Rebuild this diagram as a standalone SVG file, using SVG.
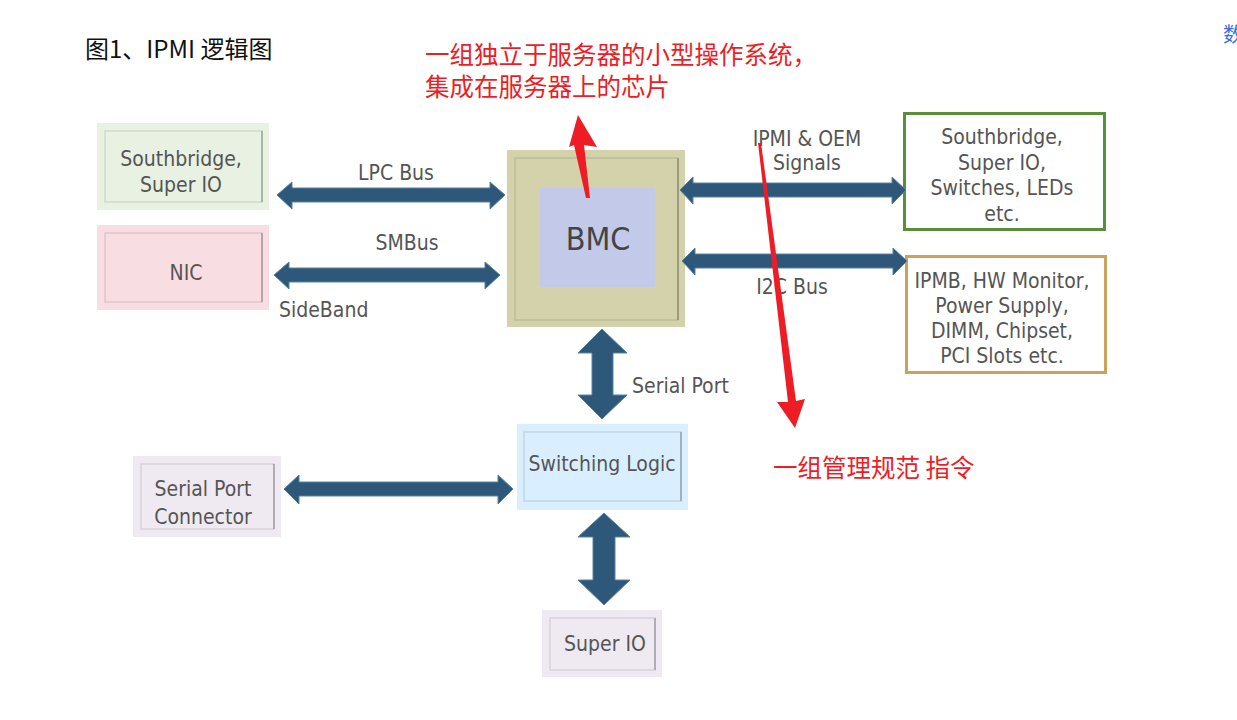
<svg xmlns="http://www.w3.org/2000/svg" width="1237" height="720" viewBox="0 0 1237 720">
<style>
.lbl{font-family:"DejaVu Sans Condensed","DejaVu Sans",sans-serif;font-size:21px;fill:#555;text-anchor:middle}
.cn{font-family:"Noto Sans CJK SC",sans-serif;font-size:24.5px;fill:#ee1c25}
.frame{fill:none;stroke:#000;stroke-opacity:0.1;stroke-width:1.5}
.edge{stroke:#000;stroke-opacity:0.2;stroke-width:2}
.arr{fill:#2d5879;stroke:#5a82a0;stroke-width:1}
.red{fill:#ee1c25}
</style>
<rect width="1237" height="720" fill="#fff"/>
<text x="85" y="58" font-family="Noto Sans CJK SC,sans-serif" font-size="24" fill="#111">图1、IPMI 逻辑图</text>
<text x="1223" y="42" font-family="Noto Sans CJK SC,sans-serif" font-size="20" fill="#3a6fe0">数</text>

<g id="sb-left">
<rect x="97" y="123" width="172" height="87" fill="#e8f1e2"/>
<rect x="105" y="131" width="157" height="71" class="frame"/>
<line x1="262" y1="131" x2="262" y2="202" class="edge"/>
<text x="181" y="166" class="lbl">Southbridge,</text>
<text x="181" y="192" class="lbl">Super IO</text>
</g>
<g id="nic">
<rect x="97" y="225" width="172" height="85" fill="#f8dde2"/>
<rect x="105" y="233" width="157" height="69" class="frame"/>
<line x1="262" y1="233" x2="262" y2="302" class="edge"/>
<text x="186" y="280" class="lbl">NIC</text>
</g>
<g id="bmc">
<rect x="507" y="150" width="178" height="177" fill="#d4d2aa"/>
<rect x="515" y="158" width="163" height="162" class="frame"/>
<line x1="678" y1="158" x2="678" y2="320" class="edge"/>
<rect x="540" y="188" width="115" height="99" fill="#c3c9e8"/>
<text x="598" y="250" class="lbl" style="font-size:32px;fill:#444">BMC</text>
</g>
<g id="sb-right">
<rect x="904.5" y="113.5" width="200" height="116" fill="#fff" stroke="#5a8f3a" stroke-width="3"/>
<text x="1002" y="144" class="lbl">Southbridge,</text>
<text x="1002" y="170" class="lbl">Super IO,</text>
<text x="1002" y="195" class="lbl">Switches, LEDs</text>
<text x="1002" y="221" class="lbl">etc.</text>
</g>
<g id="ipmb">
<rect x="906.5" y="256.5" width="199" height="116" fill="#fff" stroke="#c9a35a" stroke-width="3"/>
<text x="1002" y="288" class="lbl">IPMB, HW Monitor,</text>
<text x="1002" y="313" class="lbl">Power Supply,</text>
<text x="1002" y="338" class="lbl">DIMM, Chipset,</text>
<text x="1002" y="363" class="lbl">PCI Slots etc.</text>
</g>
<g id="switching">
<rect x="517" y="424" width="171" height="86" fill="#d9efff"/>
<rect x="524" y="432" width="157" height="69" class="frame"/>
<line x1="681" y1="432" x2="681" y2="501" class="edge"/>
<text x="602" y="471" class="lbl">Switching Logic</text>
</g>
<g id="serial-conn">
<rect x="133" y="456" width="148" height="81" fill="#efeaf2"/>
<rect x="141" y="464" width="133" height="65" class="frame"/>
<line x1="274" y1="464" x2="274" y2="529" class="edge"/>
<text x="203" y="496" class="lbl">Serial Port</text>
<text x="203" y="524" class="lbl">Connector</text>
</g>
<g id="superio">
<rect x="542" y="610" width="120" height="67" fill="#efeaf2"/>
<rect x="550" y="618" width="105" height="52" class="frame"/>
<line x1="655" y1="618" x2="655" y2="670" class="edge"/>
<text x="605" y="651" class="lbl">Super IO</text>
</g>

<g id="connectors">
<path class="arr" d="M277,195 L292,182 L292,188 L490,188 L490,182 L505,195 L490,209 L490,202 L292,202 L292,209 Z"/>
<path class="arr" d="M274,275 L289,262 L289,268 L485,268 L485,262 L500,275 L485,289 L485,282 L289,282 L289,289 Z"/>
<path class="arr" d="M680,190 L693,177 L693,183 L892,183 L892,177 L906,190 L892,204 L892,197 L693,197 L693,204 Z"/>
<path class="arr" d="M682,261 L695,248 L695,254 L893,254 L893,248 L907,261 L893,275 L893,268 L695,268 L695,275 Z"/>
<path class="arr" d="M284,489 L299,475 L299,482 L498,482 L498,475 L513,489 L498,504 L498,496 L299,496 L299,504 Z"/>
<path class="arr" d="M602,329 L627,353 L613,353 L613,395 L627,395 L602,419 L578,395 L592,395 L592,353 L578,353 Z"/>
<path class="arr" d="M604,513 L630,537 L615,537 L615,580 L630,580 L604,605 L578,580 L593,580 L593,537 L578,537 Z"/>
<text x="396" y="180" class="lbl">LPC Bus</text>
<text x="407" y="250" class="lbl">SMBus</text>
<text x="279" y="317" class="lbl" style="text-anchor:start">SideBand</text>
<text x="807" y="146" class="lbl">IPMI &amp; OEM</text>
<text x="807" y="170" class="lbl">Signals</text>
<text x="792" y="294" class="lbl">I2C Bus</text>
<text x="632" y="393" class="lbl" style="text-anchor:start">Serial Port</text>
</g>

<g id="annotations">
<text x="425" y="64" class="cn">一组独立于服务器的小型操作系统，</text>
<text x="425" y="96" class="cn">集成在服务器上的芯片</text>
<path class="red" d="M578,115 L597,147 L584,145 L590,198 L586,198 L574,145 L569,147 Z"/>
<path class="red" d="M758,143 L761,143 L796,401 L805,399 L795,428 L777,402 L788,402 Z"/>
<text x="773" y="477" class="cn">一组管理规范 指令</text>
</g>
</svg>
